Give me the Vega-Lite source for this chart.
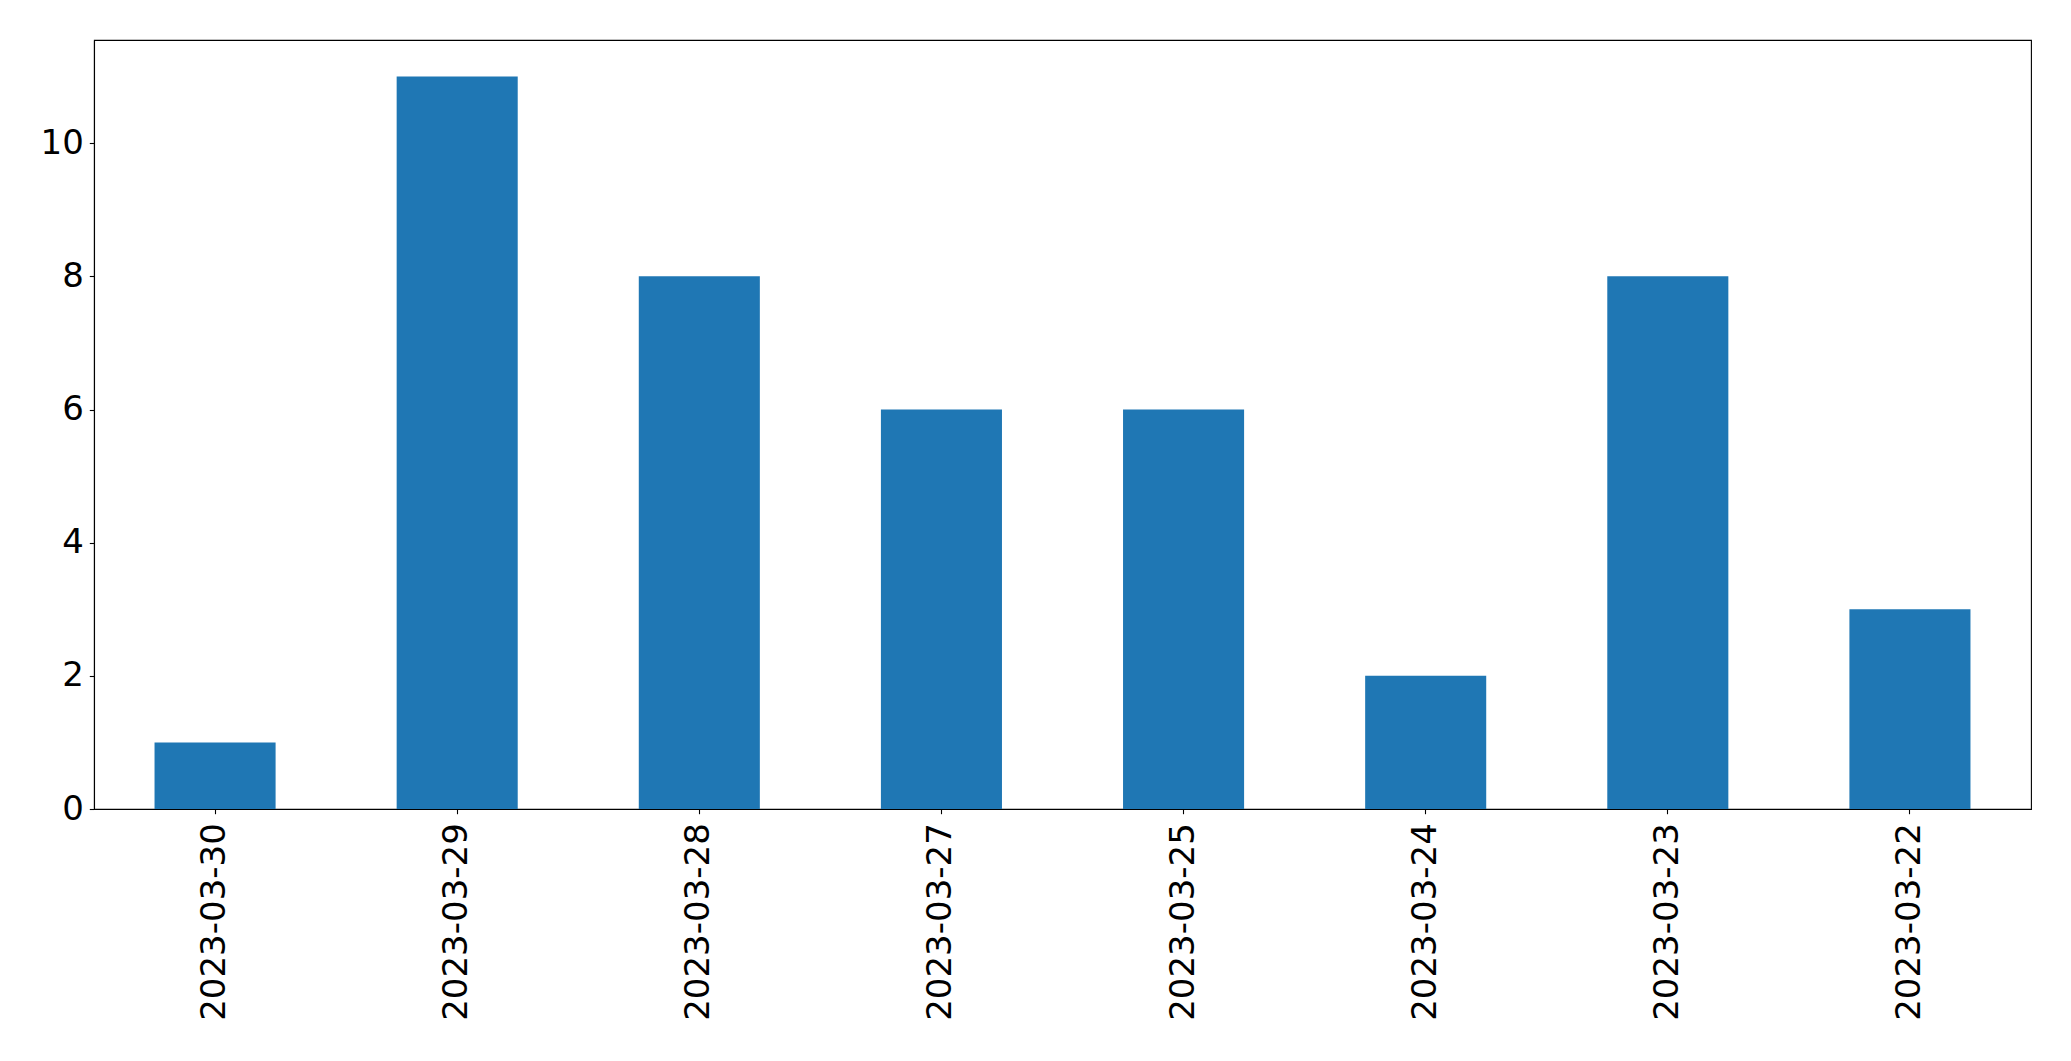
{
  "$schema": "https://vega.github.io/schema/vega-lite/v6.json",
  "width": 1937,
  "height": 769,
  "autosize": {"type": "none"},
  "padding": {"left": 94, "top": 40, "right": 40, "bottom": 252},
  "background": "white",
  "config": {
    "view": {"stroke": "black", "strokeWidth": 1.1},
    "axis": {
      "labelFont": "DejaVu Sans",
      "labelFontSize": 34,
      "labelColor": "black",
      "labelLimit": 0,
      "tickColor": "black",
      "tickSize": 4.7,
      "tickWidth": 1.1,
      "domainColor": "black",
      "domainWidth": 1.1,
      "grid": false,
      "title": null
    }
  },
  "data": {
    "values": [
      {"date": "2023-03-30", "count": 1},
      {"date": "2023-03-29", "count": 11},
      {"date": "2023-03-28", "count": 8},
      {"date": "2023-03-27", "count": 6},
      {"date": "2023-03-25", "count": 6},
      {"date": "2023-03-24", "count": 2},
      {"date": "2023-03-23", "count": 8},
      {"date": "2023-03-22", "count": 3}
    ]
  },
  "mark": {"type": "bar", "color": "#1f77b4"},
  "encoding": {
    "x": {
      "field": "date",
      "type": "nominal",
      "sort": null,
      "scale": {"paddingInner": 0.5, "paddingOuter": 0.25},
      "axis": {"labelAngle": -90, "labelPadding": 9, "labelLimit": 0, "title": null}
    },
    "y": {
      "field": "count",
      "type": "quantitative",
      "scale": {"domain": [0, 11.55], "nice": false},
      "axis": {"values": [0, 2, 4, 6, 8, 10], "labelPadding": 6, "title": null}
    }
  }
}
